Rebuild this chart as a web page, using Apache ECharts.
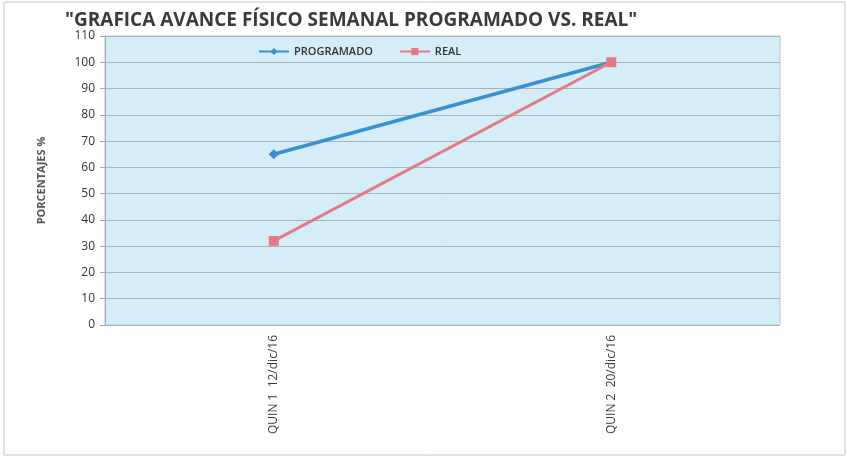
<!DOCTYPE html>
<html>
<head>
<meta charset="utf-8">
<script src="https://cdn.jsdelivr.net/npm/echarts@6/dist/echarts.min.js"></script>
<style>
  html, body { margin: 0; padding: 0; background: #fff; }
  #chart0 { width: 847px; height: 458px; }
</style>
</head>
<body>
<div id="chart0"></div>
<script>
var categories = ['QUIN 1  12/dic/16', 'QUIN 2  20/dic/16'];
var programado = [65, 100];
var real = [32, 100];

var myChart = echarts.init(document.getElementById('chart0'));
var option = {
  backgroundColor: '#fff',
  title: {
    text: '"GRAFICA AVANCE FÍSICO SEMANAL PROGRAMADO VS. REAL"',
    left: 60,
    top: 6,
    textStyle: {
      fontFamily: 'Open Sans',
      fontSize: 19,
      fontWeight: 'bold',
      color: '#3a3a3a'
    }
  },
  graphic: [{
    type: 'rect',
    shape: { x: 4, y: 2, width: 841, height: 453 },
    style: { fill: 'none', stroke: '#c8c8c8', lineWidth: 1 },
    silent: true
  }],
  legend: {
    data: ['PROGRAMADO', 'REAL'],
    left: 253,
    top: 41,
    itemWidth: 30,
    itemHeight: 9,
    itemGap: 26,
    textStyle: { fontFamily: 'Open Sans', fontSize: 11, fontWeight: 600, color: '#333' }
  },
  grid: {
    left: 105,
    right: 67,
    top: 36,
    bottom: 133,
    show: true,
    backgroundColor: '#d5edf8',
    borderColor: '#b8c8d0',
    borderWidth: 1
  },
  xAxis: {
    type: 'category',
    data: categories,
    boundaryGap: true,
    axisLine: { show: false },
    axisTick: { show: false },
    axisLabel: {
      rotate: 90,
      margin: 10,
      fontFamily: 'Open Sans',
      fontSize: 12,
      color: '#3a3a3a'
    }
  },
  yAxis: {
    type: 'value',
    min: 0,
    max: 110,
    interval: 10,
    name: 'PORCENTAJES %',
    nameLocation: 'middle',
    nameGap: 58,
    nameTextStyle: { fontFamily: 'Open Sans', fontSize: 11, fontWeight: 'bold', color: '#555' },
    axisLine: { show: true, lineStyle: { color: '#aaa' } },
    axisTick: { show: true, inside: false, length: 5, lineStyle: { color: '#aaa' } },
    axisLabel: { fontFamily: 'Open Sans', fontSize: 12, color: '#333', margin: 10 },
    splitLine: { show: true, lineStyle: { color: '#a9b4ba', width: 1 } }
  },
  series: [{
    name: 'PROGRAMADO',
    type: 'line',
    data: programado,
    symbol: 'diamond',
    symbolSize: 10,
    itemStyle: { color: '#3b8fd0' },
    lineStyle: { color: '#3b8fd0', width: 3.5 }
  }, {
    name: 'REAL',
    type: 'line',
    data: real,
    symbol: 'rect',
    symbolSize: 10,
    itemStyle: { color: '#e57a87' },
    lineStyle: { color: '#e57a87', width: 3 }
  }]
};
myChart.setOption(option);
window.addEventListener('resize', function () { myChart.resize(); });
</script>
</body>
</html>
